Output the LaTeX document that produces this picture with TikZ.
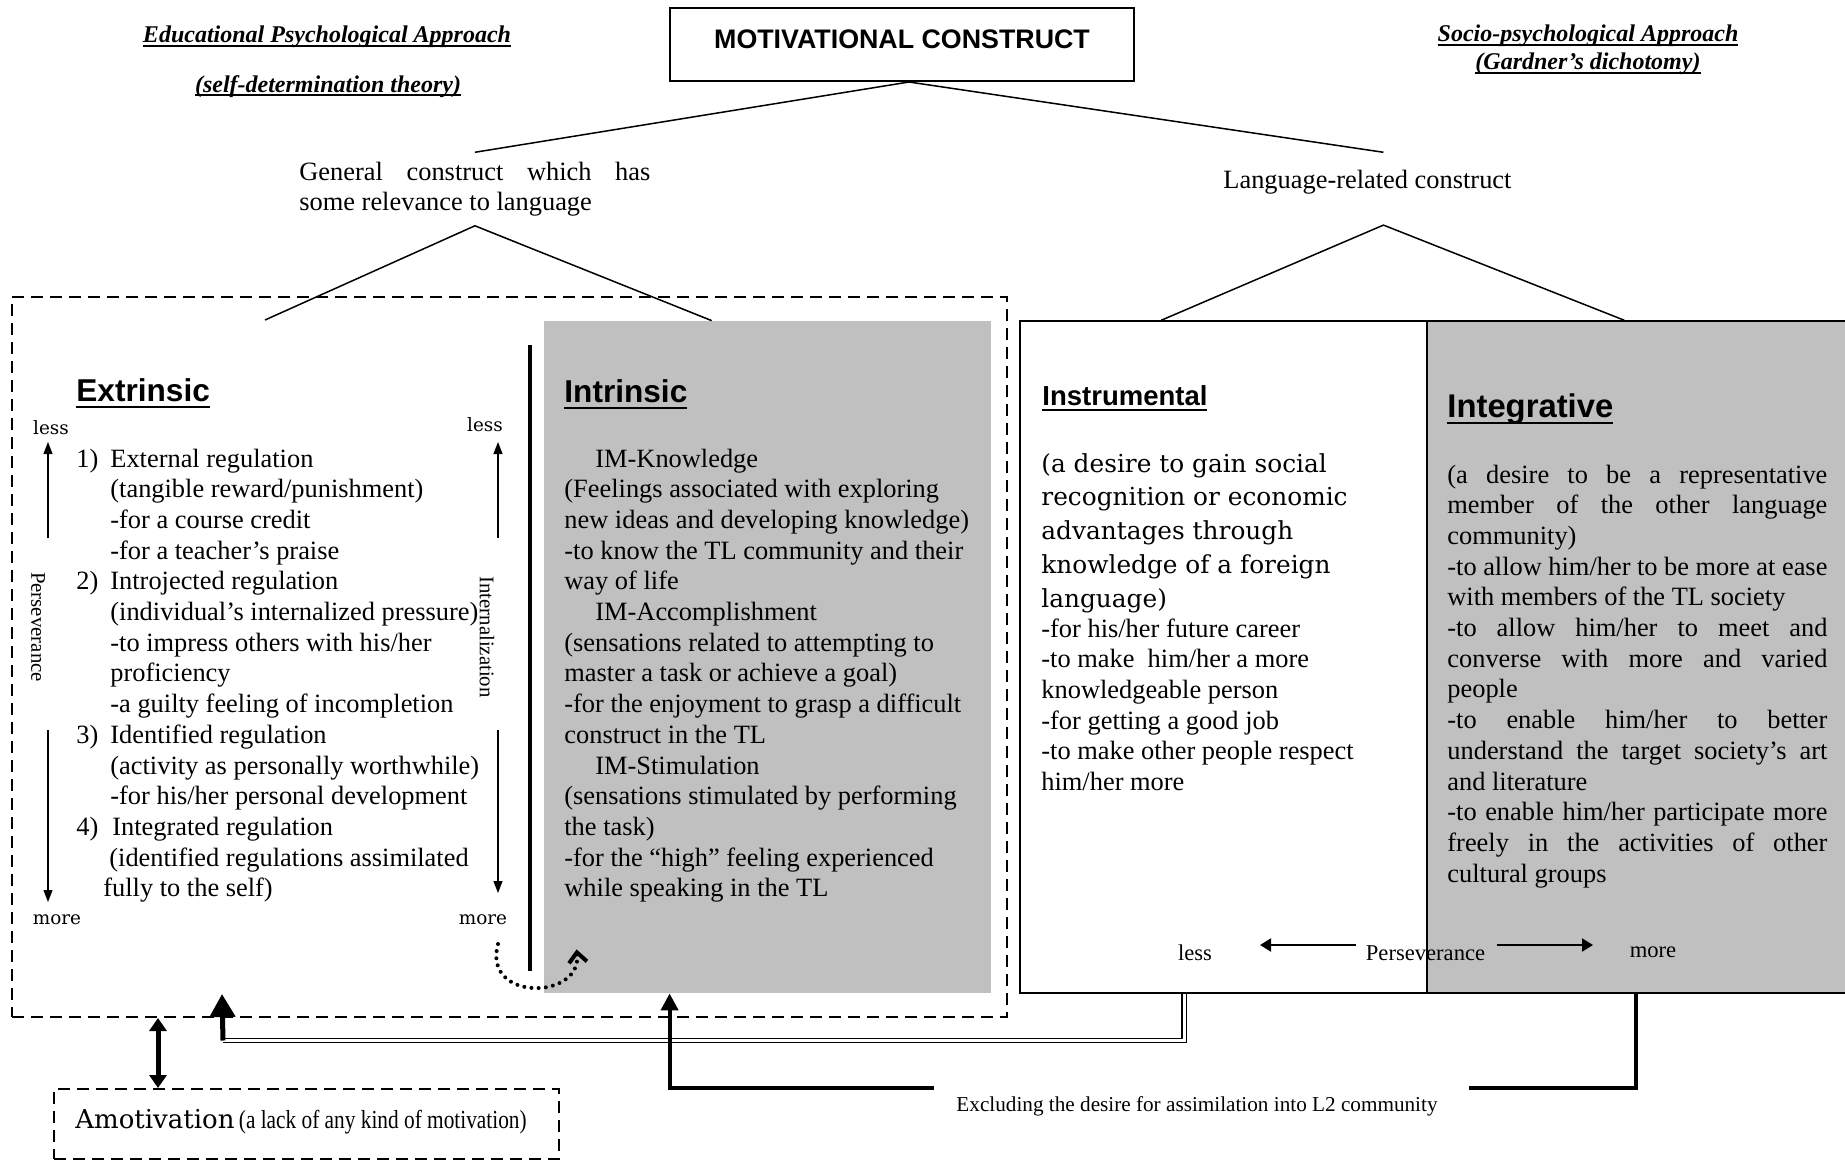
\documentclass[tikz,border=0pt]{standalone}
\usepackage{fontspec}
\usepackage{graphicx}
\setmainfont{Liberation Serif}
\setsansfont{Liberation Sans}
\newfontfamily\centfont{DejaVu Serif}
\usetikzlibrary{arrows.meta}
\newlength{\px}\setlength{\px}{0.5pt}
\newcommand{\uln}[2][3pt]{\setbox0=\hbox{#2}\rlap{\rule[-#1]{\wd0}{1pt}}\box0}
\newcommand{\jline}[1]{\makebox[\linewidth][s]{\spaceskip=0pt\xspaceskip=0pt #1}}
\definecolor{boxgray}{RGB}{192,192,192}
\tikzset{
  body/.style={anchor=base west, inner sep=0pt, align=flush left, font=\fontsize{13.2}{15.35}\selectfont},
  headA/.style={anchor=base west, inner sep=0pt, font=\sffamily\bfseries\fontsize{15.8}{18}\selectfont},
  title/.style={anchor=base, inner sep=0pt, font=\bfseries\itshape\fontsize{12}{14}\selectfont},
  scalelbl/.style={inner sep=0pt, font=\centfont\fontsize{9.2}{11}\selectfont},
  rotlbl/.style={inner sep=0pt, rotate=-90, font=\fontsize{10.4}{12}\selectfont},
  botlbl/.style={inner sep=0pt, font=\fontsize{11.3}{13}\selectfont},
  tline/.style={line width=0.75pt},
  dbox/.style={draw, dash pattern=on 6pt off 3.5pt, line width=1pt},
  sarr/.style={-{Triangle[length=6pt,width=4.5pt]}, line width=0.6pt},
  harr/.style={-{Triangle[length=5.5pt,width=6.5pt]}, line width=1pt},
  thickln/.style={line width=2pt},
  dblln/.style={double, double distance=1.5pt, line width=0.7pt},
  dotarr/.style={line width=2pt, dash pattern=on 0pt off 3.6pt, line cap=round, -{Straight Barb[length=5pt,width=9pt]}},
}
\begin{document}
\begin{tikzpicture}[x=0.5pt, y=-0.5pt]
\useasboundingbox (0,0) rectangle (1845,1161);
% Titles
\node[title] (edu) at (327,43) {\uln[2.2pt]{Educational Psychological Approach}};
\node[title] (sdt) at (328,92) {\uln[2.2pt]{(self-determination theory)}};
\node[title] (soc) at (1588,42) {\uln[2.2pt]{Socio-psychological Approach}};
\node[title] (gard) at (1588,70) {\uln[2.2pt]{(Gardner’s dichotomy)}};
% Top box
\node[draw, line width=1pt, minimum width=464\px, minimum height=73\px, text height=5pt, text depth=0.5pt,
      font=\sffamily\bfseries\fontsize{13.4}{15}\selectfont] (mc) at (902,44.5) {MOTIVATIONAL CONSTRUCT};
% Constructs
\node[body, text width=351\px, inner ysep=4.5pt] (gen) at (299,180)
  {\jline{General construct which has}\\some relevance to language};
\node[body, inner ysep=4.5pt] (lang) at (1223,188) {Language-related construct};
\draw[tline] ([xshift=3.5pt]mc.south) -- (gen.north);
\draw[tline] ([xshift=3.5pt]mc.south) -- ([xshift=8pt,yshift=4pt]lang.north);
% Boxes
\node[dbox, minimum width=995\px, minimum height=720\px] (extbox) at (509.5,657) {};
\node[fill=boxgray, inner sep=0pt, minimum width=447\px, minimum height=672\px] (intr) at (767.5,657) {};
\node[draw, line width=0.75pt, minimum width=407\px, minimum height=672\px] (instr) at (1223.5,657) {};
\node[draw, fill=boxgray, line width=0.75pt, minimum width=433\px, minimum height=672\px] (integ) at (1643.5,657) {};
\node[dbox, minimum width=505\px, minimum height=70\px] (amo) at (306.5,1124) {};
% Triangles
\coordinate (extfoot) at (265,320);
\draw[tline] (extfoot) -- (gen.south) -- ([xshift=84pt]intr.north west);
\draw[tline] ([xshift=71pt]instr.north west) -- ([xshift=8pt,yshift=-11pt]lang.south) -- ([xshift=99pt]integ.north west);
% Divider
\coordinate (divtop) at (530,345);
\coordinate (divbot) at (530,971);
\draw[line width=2.2pt] (divtop) -- (divbot);
% Extrinsic
\node[headA] (extr) at (76,401) {\uln[3.5pt]{Extrinsic}};
\node[body, text width=440\px] (extlist) at (76,467) {%
\makebox[34\px][l]{1)}External regulation\\
\hspace*{34\px}(tangible reward/punishment)\\
\hspace*{34\px}-for a course credit\\
\hspace*{34\px}-for a teacher’s praise\\
\makebox[34\px][l]{2)}Introjected regulation\\
\hspace*{34\px}(individual’s internalized pressure)\\
\hspace*{34\px}-to impress others with his/her\\
\hspace*{34\px}proficiency\\
\hspace*{34\px}-a guilty feeling of incompletion\\
\makebox[34\px][l]{3)}Identified regulation\\
\hspace*{34\px}(activity as personally worthwhile)\\
\hspace*{34\px}-for his/her personal development\\
\makebox[36\px][l]{4)}Integrated regulation\\
\hspace*{33\px}(identified regulations assimilated\\
\hspace*{27\px}fully to the self)};
\node[scalelbl] (lessA) at (51,428) {less};
\node[scalelbl] (moreA) at (57,920) {more};
\node[rotlbl] (persA) at (38,627) {Perseverance};
\coordinate (pA1) at (48,538); \coordinate (pA2) at (48,442);
\coordinate (pA3) at (48,730); \coordinate (pA4) at (48,902);
\draw[sarr] (pA1) -- (pA2);
\draw[sarr] (pA3) -- (pA4);
\node[scalelbl] (lessB) at (485,425) {less};
\node[scalelbl] (moreB) at (483,920) {more};
\node[rotlbl] (intz) at (487,637) {Internalization};
\coordinate (pB1) at (498,538); \coordinate (pB2) at (498,442);
\coordinate (pB3) at (498,730); \coordinate (pB4) at (498,893);
\draw[sarr] (pB1) -- (pB2);
\draw[sarr] (pB3) -- (pB4);
% Intrinsic
\node[headA] (intrh) at (564,402) {\uln[3.5pt]{Intrinsic}};
\node[body, text width=440\px] (intlist) at (564,467) {%
\hspace*{31\px}IM-Knowledge\\
(Feelings associated with exploring\\
new ideas and developing knowledge)\\
-to know the TL community and their\\
way of life\\
\hspace*{31\px}IM-Accomplishment\\
(sensations related to attempting to\\
master a task or achieve a goal)\\
-for the enjoyment to grasp a difficult\\
construct in the TL\\
\hspace*{31\px}IM-Stimulation\\
(sensations stimulated by performing\\
the task)\\
-for the “high” feeling experienced\\
while speaking in the TL};
\coordinate (dotS) at (498,944);
\draw[dotarr] (dotS) .. controls (482,1002) and (582,1000) .. ([xshift=16.5pt,yshift=22pt]intr.south west);
% Instrumental
\node[headA, font=\sffamily\bfseries\fontsize{13.75}{16}\selectfont] (instrh) at (1042,405) {\uln[3pt]{Instrumental}};
\node[body, font=\centfont\fontsize{12.4}{16.9}\selectfont, text width=390\px] (instrdef) at (1041,472) {%
(a desire to gain social\\
recognition or economic\\
advantages through\\
knowledge of a foreign\\
language)};
\node[body, text width=390\px] (instritems) at (1041,637) {%
-for his/her future career\\
-to make~ him/her a more\\
knowledgeable person\\
-for getting a good job\\
-to make other people respect\\
him/her more};
% Integrative
\node[headA, font=\sffamily\bfseries\fontsize{16.4}{19}\selectfont] (integh) at (1447,417) {\uln[3.5pt]{Integrative}};
\node[body, text width=380\px] (integtext) at (1447,483) {%
\jline{(a desire to be a representative}\\
\jline{member of the other language}\\
community)\\
\jline{-to allow him/her to be more at ease}\\
with members of the TL society\\
\jline{-to allow him/her to meet and}\\
\jline{converse with more and varied}\\
people\\
\jline{-to enable him/her to better}\\
\jline{understand the target society’s art}\\
and literature\\
\jline{-to enable him/her participate more}\\
\jline{freely in the activities of other}\\
cultural groups};
% Perseverance (right)
\node[botlbl] (lessC) at (1195,953) {less};
\node[botlbl] (persC) at (1425.5,953) {Perseverance};
\node[botlbl] (moreC) at (1653,952) {more};
\coordinate (lessTip) at (1260,945);
\coordinate (moreTip) at (1593,945);
\draw[harr] ([xshift=-5pt,yshift=4pt]persC.west) -- (lessTip);
\draw[harr] ([xshift=5.5pt,yshift=4pt]persC.east) -- (moreTip);
% Amotivation
\node[anchor=base west, inner sep=0pt, font=\centfont\fontsize{13}{15}\selectfont] (amotext) at (75,1128)
  {Amotivation\,\scalebox{0.82}[1]{\rmfamily\fontsize{13}{15}\selectfont(a lack of any kind of motivation)}};
\draw[{Triangle[length=6.5pt,width=8.5pt]}-{Triangle[length=6.5pt,width=8.5pt]}, line width=2.5pt]
  ([xshift=73.5pt]extbox.south west) -- ([xshift=52.5pt]amo.north west);
% Bottom connectors
\node[inner sep=0pt, font=\fontsize{10.6}{12}\selectfont] (excl) at (1197,1106) {Excluding the desire for assimilation into L2 community};
\coordinate (dblturn) at (223,1040.5);
\draw[dblln] ([xshift=82.5pt]instr.south west) |- (dblturn);
\draw[line width=2.5pt, -{Triangle[length=11.5pt,width=12.5pt]}] (dblturn) -- ([xshift=105.5pt,yshift=12pt]extbox.south west);
\draw[thickln] ([xshift=105pt]integ.south west) |- ([xshift=15.5pt,yshift=9pt]excl.east);
\draw[thickln, -{Triangle[length=8.5pt,width=8.5pt]}] ([xshift=-11pt,yshift=9pt]excl.west) -| ([xshift=63pt]intr.south west);
\end{tikzpicture}
\end{document}
